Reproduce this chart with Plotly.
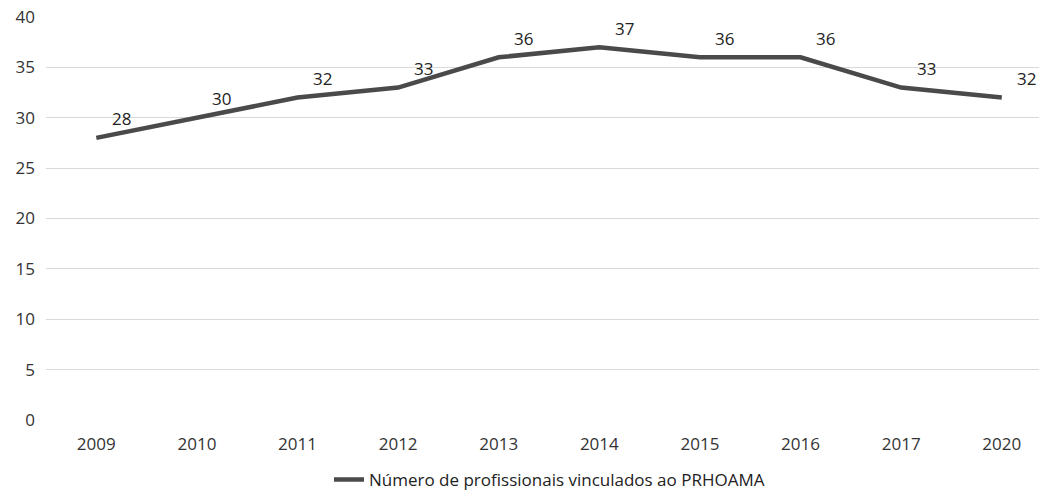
import plotly.graph_objects as go

years = ["2009", "2010", "2011", "2012", "2013", "2014", "2015", "2016", "2017", "2020"]
values = [28, 30, 32, 33, 36, 37, 36, 36, 33, 32]
y_ticks = [0, 5, 10, 15, 20, 25, 30, 35, 40]
series_name = "Número de profissionais vinculados ao PRHOAMA"

fig = go.Figure()
fig.add_trace(go.Scatter(
    x=list(range(len(years))), y=values, mode="lines", name=series_name,
    line=dict(color="#4a4a4a", width=4.5), showlegend=True,
))
for i, v in enumerate(values):
    fig.add_annotation(x=i, y=v, text=str(v), showarrow=False, xshift=25, yshift=19,
                       font=dict(size=17, color="#222"))

fig.update_layout(
    width=1039, height=493,
    margin=dict(l=46, r=0, t=17, b=73),
    plot_bgcolor="white", paper_bgcolor="white",
    font=dict(family="Open Sans, sans-serif", size=17, color="#333"),
    xaxis=dict(tickmode="array", tickvals=list(range(len(years))), ticktext=years,
               range=[-0.5, 9.37], showgrid=False, zeroline=False, showline=False,
               ticks="", ticklen=0, automargin=False, ticklabelstandoff=12),
    yaxis=dict(range=[0, 40], tickmode="array", tickvals=y_ticks,
               showgrid=True, gridcolor="#d9d9d9", gridwidth=1,
               zeroline=False, showline=False, ticks="", automargin=False,
               ticklabelstandoff=10, ticklabeloverflow="allow"),
    legend=dict(orientation="h", x=0.285, xanchor="left", xref="paper",
                y=0.063, yanchor="top", yref="container",
                font=dict(size=17, color="#222")),
)
fig.write_html("out.html", config={"displayModeBar": False},
               post_script="document.body.style.margin='0';document.body.style.overflow='hidden';")
